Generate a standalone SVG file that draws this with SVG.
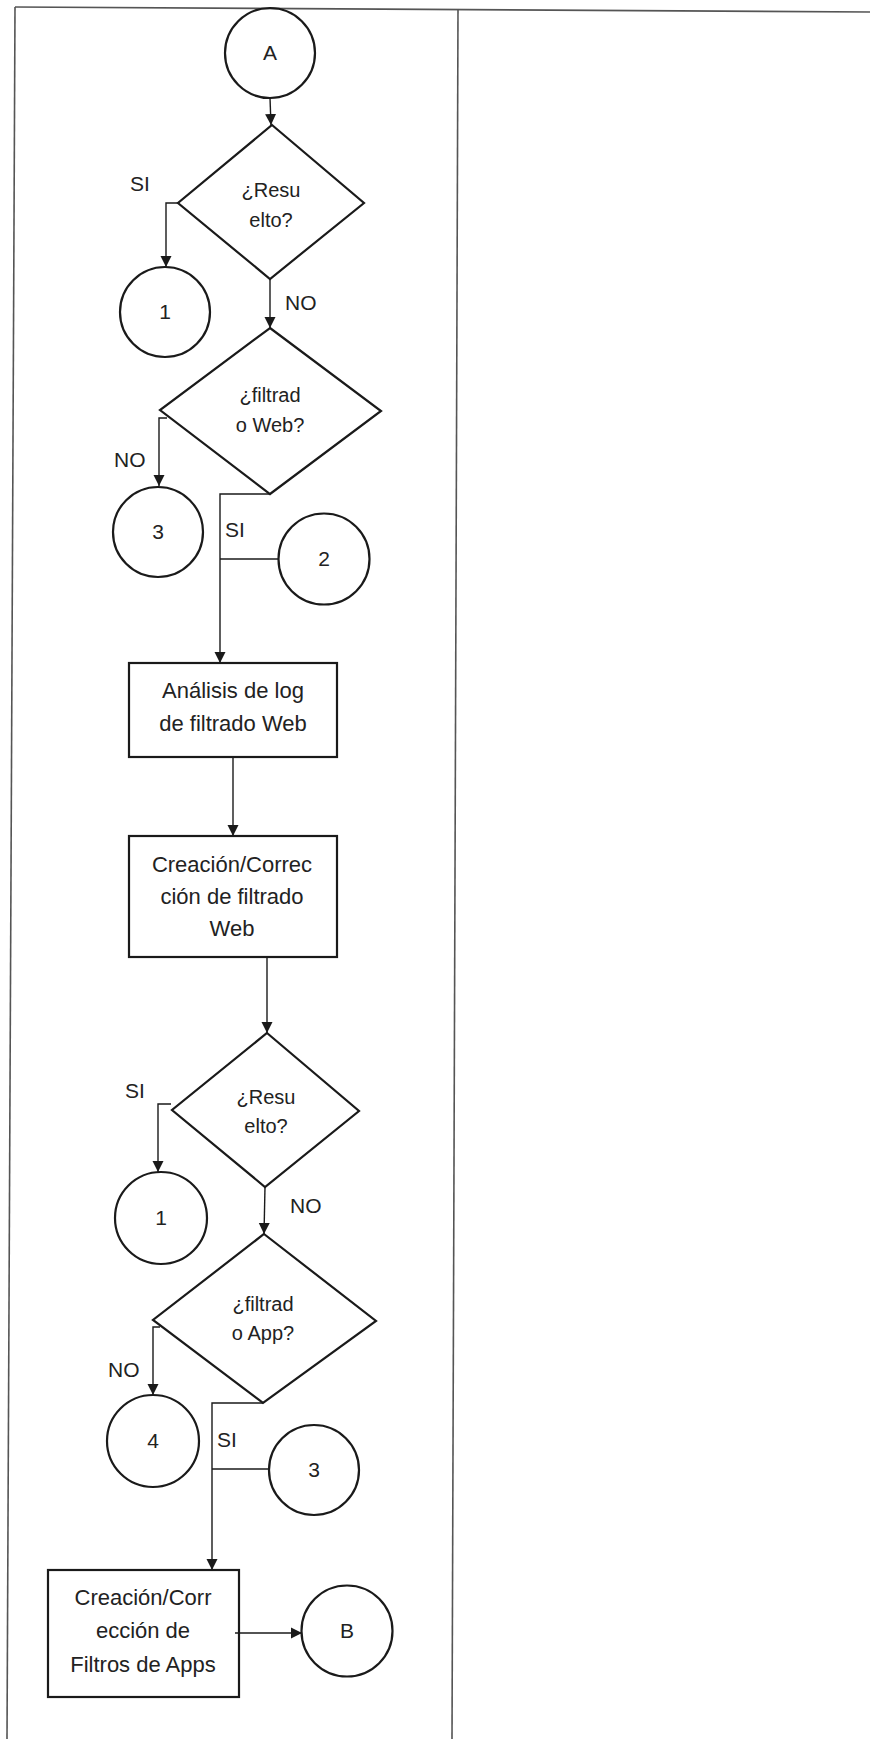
<svg xmlns="http://www.w3.org/2000/svg" width="870" height="1739" viewBox="0 0 870 1739">
<style>
.sh{fill:none;stroke:#1a1a1a;stroke-width:2.2}
.fr{fill:none;stroke:#555;stroke-width:1.6}
.cn{fill:none;stroke:#1a1a1a;stroke-width:1.4}
text{font-family:"Liberation Sans",Arial,sans-serif;fill:#222;text-anchor:middle}
.c{font-size:21px}
.d{font-size:20px}
.b{font-size:22px}
.l{font-size:21px;text-anchor:start}
</style>
<defs>
<marker id="ar" markerUnits="userSpaceOnUse" markerWidth="12" markerHeight="12" refX="11" refY="6" orient="auto">
<path d="M0,0.5 L11,6 L0,11.5 Z" fill="#1a1a1a"/>
</marker>
</defs>
<rect width="870" height="1739" fill="#fff"/>
<g id="frame">
<path class="fr" d="M15,7 L870,12"/>
<path class="fr" d="M15,7 L7,1739"/>
<path class="fr" d="M458,9 L452,1739"/>
</g>
<g id="connectors">
<path class="cn" d="M270,98 L271,125" marker-end="url(#ar)"/>
<path class="cn" d="M178,203 H166 V267" marker-end="url(#ar)"/>
<path class="cn" d="M270,279 V328" marker-end="url(#ar)"/>
<path class="cn" d="M167,418 H159 V486" marker-end="url(#ar)"/>
<path class="cn" d="M270,494 H220 V663" marker-end="url(#ar)"/>
<path class="cn" d="M220,559 H278"/>
<path class="cn" d="M233,757 V836" marker-end="url(#ar)"/>
<path class="cn" d="M267,957 V1033" marker-end="url(#ar)"/>
<path class="cn" d="M171,1104 H158 V1172" marker-end="url(#ar)"/>
<path class="cn" d="M265,1187 L264,1234" marker-end="url(#ar)"/>
<path class="cn" d="M160,1327 H153 V1395" marker-end="url(#ar)"/>
<path class="cn" d="M263,1403 H212 V1570" marker-end="url(#ar)"/>
<path class="cn" d="M212,1469 H269"/>
<path class="cn" d="M235,1633 H302" marker-end="url(#ar)"/>
</g>
<g id="labels">
<text class="l" x="130" y="191">SI</text>
<text class="l" x="285" y="310">NO</text>
<text class="l" x="114" y="467">NO</text>
<text class="l" x="225" y="537">SI</text>
<text class="l" x="125" y="1098">SI</text>
<text class="l" x="290" y="1213">NO</text>
<text class="l" x="108" y="1377">NO</text>
<text class="l" x="217" y="1447">SI</text>
</g>
<g id="nodeA"><circle class="sh" cx="270" cy="53" r="45"/><text class="c" x="270" y="60">A</text></g>
<g id="dec1"><polygon class="sh" points="272,125 364,203 270,279 178,203"/><text class="d" x="271" y="197">¿Resu</text><text class="d" x="271" y="227">elto?</text></g>
<g id="conn1a"><circle class="sh" cx="165" cy="312" r="45"/><text class="c" x="165" y="319">1</text></g>
<g id="dec2"><polygon class="sh" points="270,328 381,411 270,494 160,410"/><text class="d" x="270" y="402">¿filtrad</text><text class="d" x="270" y="432">o Web?</text></g>
<g id="conn3a"><circle class="sh" cx="158" cy="532" r="45"/><text class="c" x="158" y="539">3</text></g>
<g id="conn2"><circle class="sh" cx="324" cy="559" r="45.5"/><text class="c" x="324" y="566">2</text></g>
<g id="box1"><rect class="sh" x="129" y="663" width="208" height="94"/><text class="b" x="233" y="698">Análisis de log</text><text class="b" x="233" y="731">de filtrado Web</text></g>
<g id="box2"><rect class="sh" x="129" y="836" width="208" height="121"/><text class="b" x="232" y="872">Creación/Correc</text><text class="b" x="232" y="904">ción de filtrado</text><text class="b" x="232" y="936">Web</text></g>
<g id="dec3"><polygon class="sh" points="267,1033 359,1111 265,1187 172,1110"/><text class="d" x="266" y="1104">¿Resu</text><text class="d" x="266" y="1133">elto?</text></g>
<g id="conn1b"><circle class="sh" cx="161" cy="1218" r="46"/><text class="c" x="161" y="1225">1</text></g>
<g id="dec4"><polygon class="sh" points="264,1234 376,1321 263,1403 153,1320"/><text class="d" x="263" y="1311">¿filtrad</text><text class="d" x="263" y="1340">o App?</text></g>
<g id="conn4"><circle class="sh" cx="153" cy="1441" r="46"/><text class="c" x="153" y="1448">4</text></g>
<g id="conn3b"><circle class="sh" cx="314" cy="1470" r="45"/><text class="c" x="314" y="1477">3</text></g>
<g id="box3"><rect class="sh" x="48" y="1570" width="191" height="127"/><text class="b" x="143" y="1605">Creación/Corr</text><text class="b" x="143" y="1638">ección de</text><text class="b" x="143" y="1672">Filtros de Apps</text></g>
<g id="nodeB"><circle class="sh" cx="347" cy="1631" r="45.5"/><text class="c" x="347" y="1638">B</text></g>
</svg>
